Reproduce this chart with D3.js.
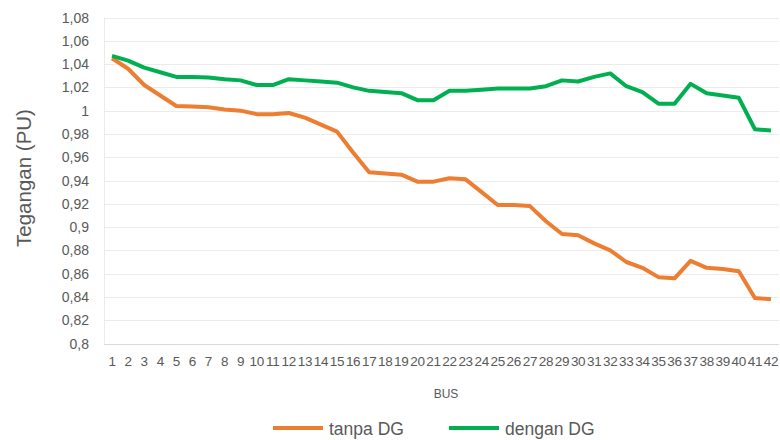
<!DOCTYPE html>
<html>
<head>
<meta charset="utf-8">
<script src="https://cdn.jsdelivr.net/npm/d3@7"></script>
<style>
  body { margin: 0; background: #fff; }
  text { font-family: "Liberation Sans", Arial, sans-serif; fill: #595959; }
</style>
</head>
<body>
<div class="viz"></div>
<script>
// data
const buses = d3.range(1, 43).map(String);

const tanpaDG = [1.045, 1.036, 1.022, 1.013, 1.004, 1.0035, 1.003, 1.001, 1.0, 0.997,
  0.997, 0.998, 0.994, 0.988, 0.982, 0.964, 0.947, 0.946, 0.945, 0.939,
  0.939, 0.942, 0.941, 0.930, 0.919, 0.919, 0.918, 0.905, 0.894, 0.893,
  0.886, 0.880, 0.870, 0.865, 0.857, 0.856, 0.871, 0.865, 0.864, 0.862,
  0.839, 0.838];

const denganDG = [1.047, 1.043, 1.037, 1.033, 1.029, 1.029, 1.0285, 1.027, 1.026, 1.022,
  1.022, 1.027, 1.026, 1.025, 1.024, 1.020, 1.017, 1.016, 1.015, 1.009,
  1.009, 1.017, 1.017, 1.018, 1.019, 1.019, 1.019, 1.021, 1.026, 1.025,
  1.029, 1.032, 1.021, 1.016, 1.006, 1.006, 1.023, 1.015, 1.013, 1.011,
  0.984, 0.983];

const yTicks = [0.8, 0.82, 0.84, 0.86, 0.88, 0.9, 0.92, 0.94, 0.96, 0.98,
  1, 1.02, 1.04, 1.06, 1.08];

const seriesNames = ["tanpa DG", "dengan DG"];
const seriesColors = ["#ED7D31", "#00B050"];

const W = 780, H = 440;
const margin = { top: 17.5, bottom: 96.5, left: 104, right: 1 };

const svg = d3.select('.viz')
    .append('svg')
    .attr('width', W)
    .attr('height', H);

/* SCALES */
const x = d3.scaleBand()
    .domain(buses)
    .range([margin.left, W - margin.right]);

const y = d3.scaleLinear()
    .domain([0.8, 1.08])
    .range([H - margin.bottom, margin.top]);

const fmt = d3.formatLocale({ decimal: ",", thousands: ".", grouping: [3], currency: ["", ""] }).format("~g");

// gridlines
svg.append("g")
    .selectAll("line")
    .data(yTicks)
    .enter()
    .append("line")
    .attr("x1", margin.left)
    .attr("x2", W - margin.right)
    .attr("y1", d => Math.round(y(d)) + 0.5)
    .attr("y2", d => Math.round(y(d)) + 0.5)
    .style("stroke", d => d === 0.8 ? "#d9d9d9" : "#ebebeb")
    .style("stroke-width", 1);

// left frame line
svg.append("line")
    .attr("x1", margin.left + 0.5)
    .attr("x2", margin.left + 0.5)
    .attr("y1", y(1.08))
    .attr("y2", y(0.8))
    .style("stroke", "#ebebeb");

// y tick labels
svg.append("g")
    .selectAll("text")
    .data(yTicks)
    .enter()
    .append("text")
    .attr("x", 89)
    .attr("y", d => y(d) + 5)
    .attr("text-anchor", "end")
    .style("font-size", "14px")
    .text(d => fmt(d));

// x tick labels
svg.append("g")
    .selectAll("text")
    .data(buses)
    .enter()
    .append("text")
    .attr("x", d => x(d) + x.bandwidth() / 2)
    .attr("y", 366)
    .attr("text-anchor", "middle")
    .style("font-size", "13.5px")
    .style("letter-spacing", "-0.3px")
    .text(d => d);

// axis titles
svg.append("text")
    .attr("x", 446)
    .attr("y", 398)
    .attr("text-anchor", "middle")
    .style("font-size", "12px")
    .text("BUS");

svg.append("text")
    .attr("transform", "translate(31,178) rotate(-90)")
    .attr("text-anchor", "middle")
    .style("font-size", "20.5px")
    .text("Tegangan (PU)");

/* LINES */
const line = d3.line()
    .x((d, i) => x(buses[i]) + x.bandwidth() / 2)
    .y(d => y(d));

[tanpaDG, denganDG].forEach(function(vals, k) {
    svg.append("path")
        .datum(vals)
        .attr("d", line)
        .style("fill", "none")
        .style("stroke", seriesColors[k])
        .style("stroke-width", 4)
        .style("stroke-linejoin", "round");
});

/* LEGEND */
const legX = [273, 449];
const leg = svg.append("g")
    .selectAll("g")
    .data(seriesNames)
    .enter()
    .append("g")
    .attr("transform", (d, i) => `translate(${legX[i]},428)`);

leg.append("line")
    .attr("x1", 0)
    .attr("x2", 50)
    .style("stroke", (d, i) => seriesColors[i])
    .style("stroke-width", 4);

leg.append("text")
    .attr("x", 56)
    .attr("y", 6.5)
    .style("font-size", "17.5px")
    .text(d => d);
</script>
</body>
</html>
